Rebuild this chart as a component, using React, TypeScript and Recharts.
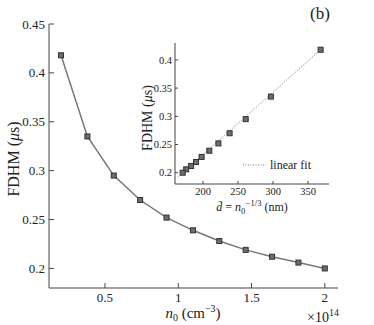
import { LineChart, Line, XAxis, YAxis } from "recharts";

// n0 in units of 1e14 cm^-3, FDHM in microseconds
const densityN0 = [0.2, 0.38, 0.56, 0.74, 0.92, 1.1, 1.28, 1.46, 1.64, 1.82, 2.0];
const fdhmUs = [0.418, 0.335, 0.295, 0.27, 0.252, 0.239, 0.228, 0.219, 0.212, 0.206, 0.2];
// inset: mean spacing d = n0^(-1/3) in nm
const spacingNm = [368, 297, 261, 238, 222, 209, 198, 190, 183, 176, 171];
const fitSpacingNm = [164, 370];
const fitFdhmUs = [0.1923, 0.4202];

const mainXTicks = [0.5, 1, 1.5, 2];
const mainYTicks = [0.2, 0.25, 0.3, 0.35, 0.4, 0.45];
const insetXTicks = [200, 250, 300, 350];
const insetYTicks = [0.2, 0.25, 0.3, 0.35, 0.4];

const mainData = densityN0.map((n, i) => ({ n, fdhm: fdhmUs[i] }));
const insetData = spacingNm.map((d, i) => ({ d, fdhm: fdhmUs[i] }));
const fitData = fitSpacingNm.map((d, i) => ({ d, fit: fitFdhmUs[i] }));

const AXIS = "#444";
const INK = "#222";
const SERIF = '"Liberation Serif", "Times New Roman", serif';

function SquareDot(props: any) {
  const { cx, cy, index } = props;
  if (cx == null || cy == null) return null;
  return (
    <rect
      key={index}
      x={cx - 2.5}
      y={cy - 2.5}
      width={5}
      height={5}
      fill="#6e6e6e"
      stroke="#303030"
      strokeWidth={1}
    />
  );
}

function makeTick(fontSize: number, anchor: "middle" | "end", dy: string) {
  return function Tick(props: any) {
    const { x, y, payload } = props;
    return (
      <text x={x} y={y} dy={dy} textAnchor={anchor} fontSize={fontSize} fill={INK} fontFamily={SERIF}>
        {payload.value}
      </text>
    );
  };
}

const MainXTick = makeTick(13, "middle", "0.71em");
const MainYTick = makeTick(13, "end", "0.35em");
const InsetXTick = makeTick(10.5, "middle", "0.71em");
const InsetYTick = makeTick(10.5, "end", "0.35em");

function MainChart() {
  return (
    <LineChart
      width={374}
      height={325}
      data={mainData}
      margin={{ top: 24, right: 36, bottom: 7, left: 9 }}
    >
      <XAxis
        dataKey="n"
        type="number"
        domain={[0.118, 2.09]}
        ticks={mainXTicks}
        interval={0}
        allowDataOverflow
        height={30}
        tickSize={-5}
        tickMargin={10}
        tick={<MainXTick />}
        stroke={AXIS}
      />
      <XAxis
        xAxisId="top"
        orientation="top"
        dataKey="n"
        type="number"
        domain={[0.118, 2.09]}
        ticks={mainXTicks}
        interval={0}
        allowDataOverflow
        height={0}
        tickSize={-5}
        tick={false}
        stroke={AXIS}
      />
      <YAxis
        type="number"
        domain={[0.18, 0.45]}
        ticks={mainYTicks}
        interval={0}
        allowDataOverflow
        width={40}
        tickSize={-5}
        tickMargin={9}
        tick={<MainYTick />}
        stroke={AXIS}
      />
      <YAxis
        yAxisId="right"
        orientation="right"
        type="number"
        domain={[0.18, 0.45]}
        ticks={mainYTicks}
        interval={0}
        allowDataOverflow
        width={0}
        tickSize={-5}
        tick={false}
        stroke={AXIS}
      />
      <Line
        dataKey="fdhm"
        type="linear"
        stroke="#777"
        strokeWidth={1.5}
        dot={<SquareDot />}
        activeDot={false}
        isAnimationActive={false}
      />
      <text
        x={13}
        y={159}
        transform="rotate(-90 13 159)"
        textAnchor="middle"
        dy="0.35em"
        fontSize={16}
        fill={INK}
        fontFamily={SERIF}
      >
        FDHM (<tspan fontStyle="italic">μ</tspan>s)
      </text>
      <text x={193} y={318} textAnchor="middle" fontSize={15} fill={INK} fontFamily={SERIF}>
        <tspan fontStyle="italic">n</tspan>
        <tspan fontSize={10} dy={3}>0</tspan>
        <tspan dy={-3}> (cm</tspan>
        <tspan fontSize={10} dy={-6}>−3</tspan>
        <tspan dy={6}>)</tspan>
      </text>
      <text x={307} y={322} fontSize={14} fill={INK} fontFamily={SERIF}>
        ×10
        <tspan fontSize={10} dy={-6}>14</tspan>
      </text>
      <text x={310} y={19} fontSize={17} fill={INK} fontFamily={SERIF}>
        (b)
      </text>
    </LineChart>
  );
}

function InsetChart() {
  return (
    <LineChart width={210} height={190} margin={{ top: 8, right: 11, bottom: 11, left: 15 }}>
      <rect x={45} y={8} width={154} height={141} fill="#fff" />
      <XAxis
        dataKey="d"
        type="number"
        domain={[160, 380]}
        ticks={insetXTicks}
        interval={0}
        allowDataOverflow
        height={30}
        tickSize={-3}
        tickMargin={7}
        tick={<InsetXTick />}
        stroke={AXIS}
      />
      <XAxis
        xAxisId="top"
        orientation="top"
        dataKey="d"
        type="number"
        domain={[160, 380]}
        ticks={insetXTicks}
        interval={0}
        allowDataOverflow
        height={0}
        tickSize={-3}
        tick={false}
        stroke={AXIS}
      />
      <YAxis
        type="number"
        domain={[0.18, 0.43]}
        ticks={insetYTicks}
        interval={0}
        allowDataOverflow
        width={30}
        tickSize={-3}
        tickMargin={6}
        tick={<InsetYTick />}
        stroke={AXIS}
      />
      <YAxis
        yAxisId="right"
        orientation="right"
        type="number"
        domain={[0.18, 0.43]}
        ticks={insetYTicks}
        interval={0}
        allowDataOverflow
        width={0}
        tickSize={-3}
        tick={false}
        stroke={AXIS}
      />
      <Line
        data={fitData}
        dataKey="fit"
        type="linear"
        stroke="#777"
        strokeWidth={1}
        strokeDasharray="1 1.5"
        dot={false}
        activeDot={false}
        isAnimationActive={false}
      />
      <Line
        data={insetData}
        dataKey="fdhm"
        type="linear"
        stroke="none"
        dot={<SquareDot />}
        activeDot={false}
        isAnimationActive={false}
      />
      <line x1={113} x2={136} y1={130} y2={130} stroke="#777" strokeWidth={1} strokeDasharray="1 1.5" />
      <text x={140} y={134} fontSize={12} fill={INK} fontFamily={SERIF}>
        linear fit
      </text>
      <text
        x={17}
        y={83}
        transform="rotate(-90 17 83)"
        textAnchor="middle"
        dy="0.35em"
        fontSize={14}
        fill={INK}
        fontFamily={SERIF}
      >
        FDHM (<tspan fontStyle="italic">μ</tspan>s)
      </text>
      <text x={122} y={176} textAnchor="middle" fontSize={12} fill={INK} fontFamily={SERIF}>
        <tspan fontStyle="italic">d̄</tspan>
        <tspan> = </tspan>
        <tspan fontStyle="italic">n</tspan>
        <tspan fontSize={8.5} dy={3}>0</tspan>
        <tspan fontSize={8.5} dx={0.5} dy={-8}>−1/3</tspan>
        <tspan dy={5}> (nm)</tspan>
      </text>
    </LineChart>
  );
}

export default function App() {
  return (
    <div
      style={{
        position: "absolute",
        left: 0,
        top: 0,
        width: 374,
        height: 325,
        background: "#fff",
        fontFamily: SERIF,
      }}
    >
      <MainChart />
      <div style={{ position: "absolute", left: 130, top: 35 }}>
        <InsetChart />
      </div>
    </div>
  );
}
